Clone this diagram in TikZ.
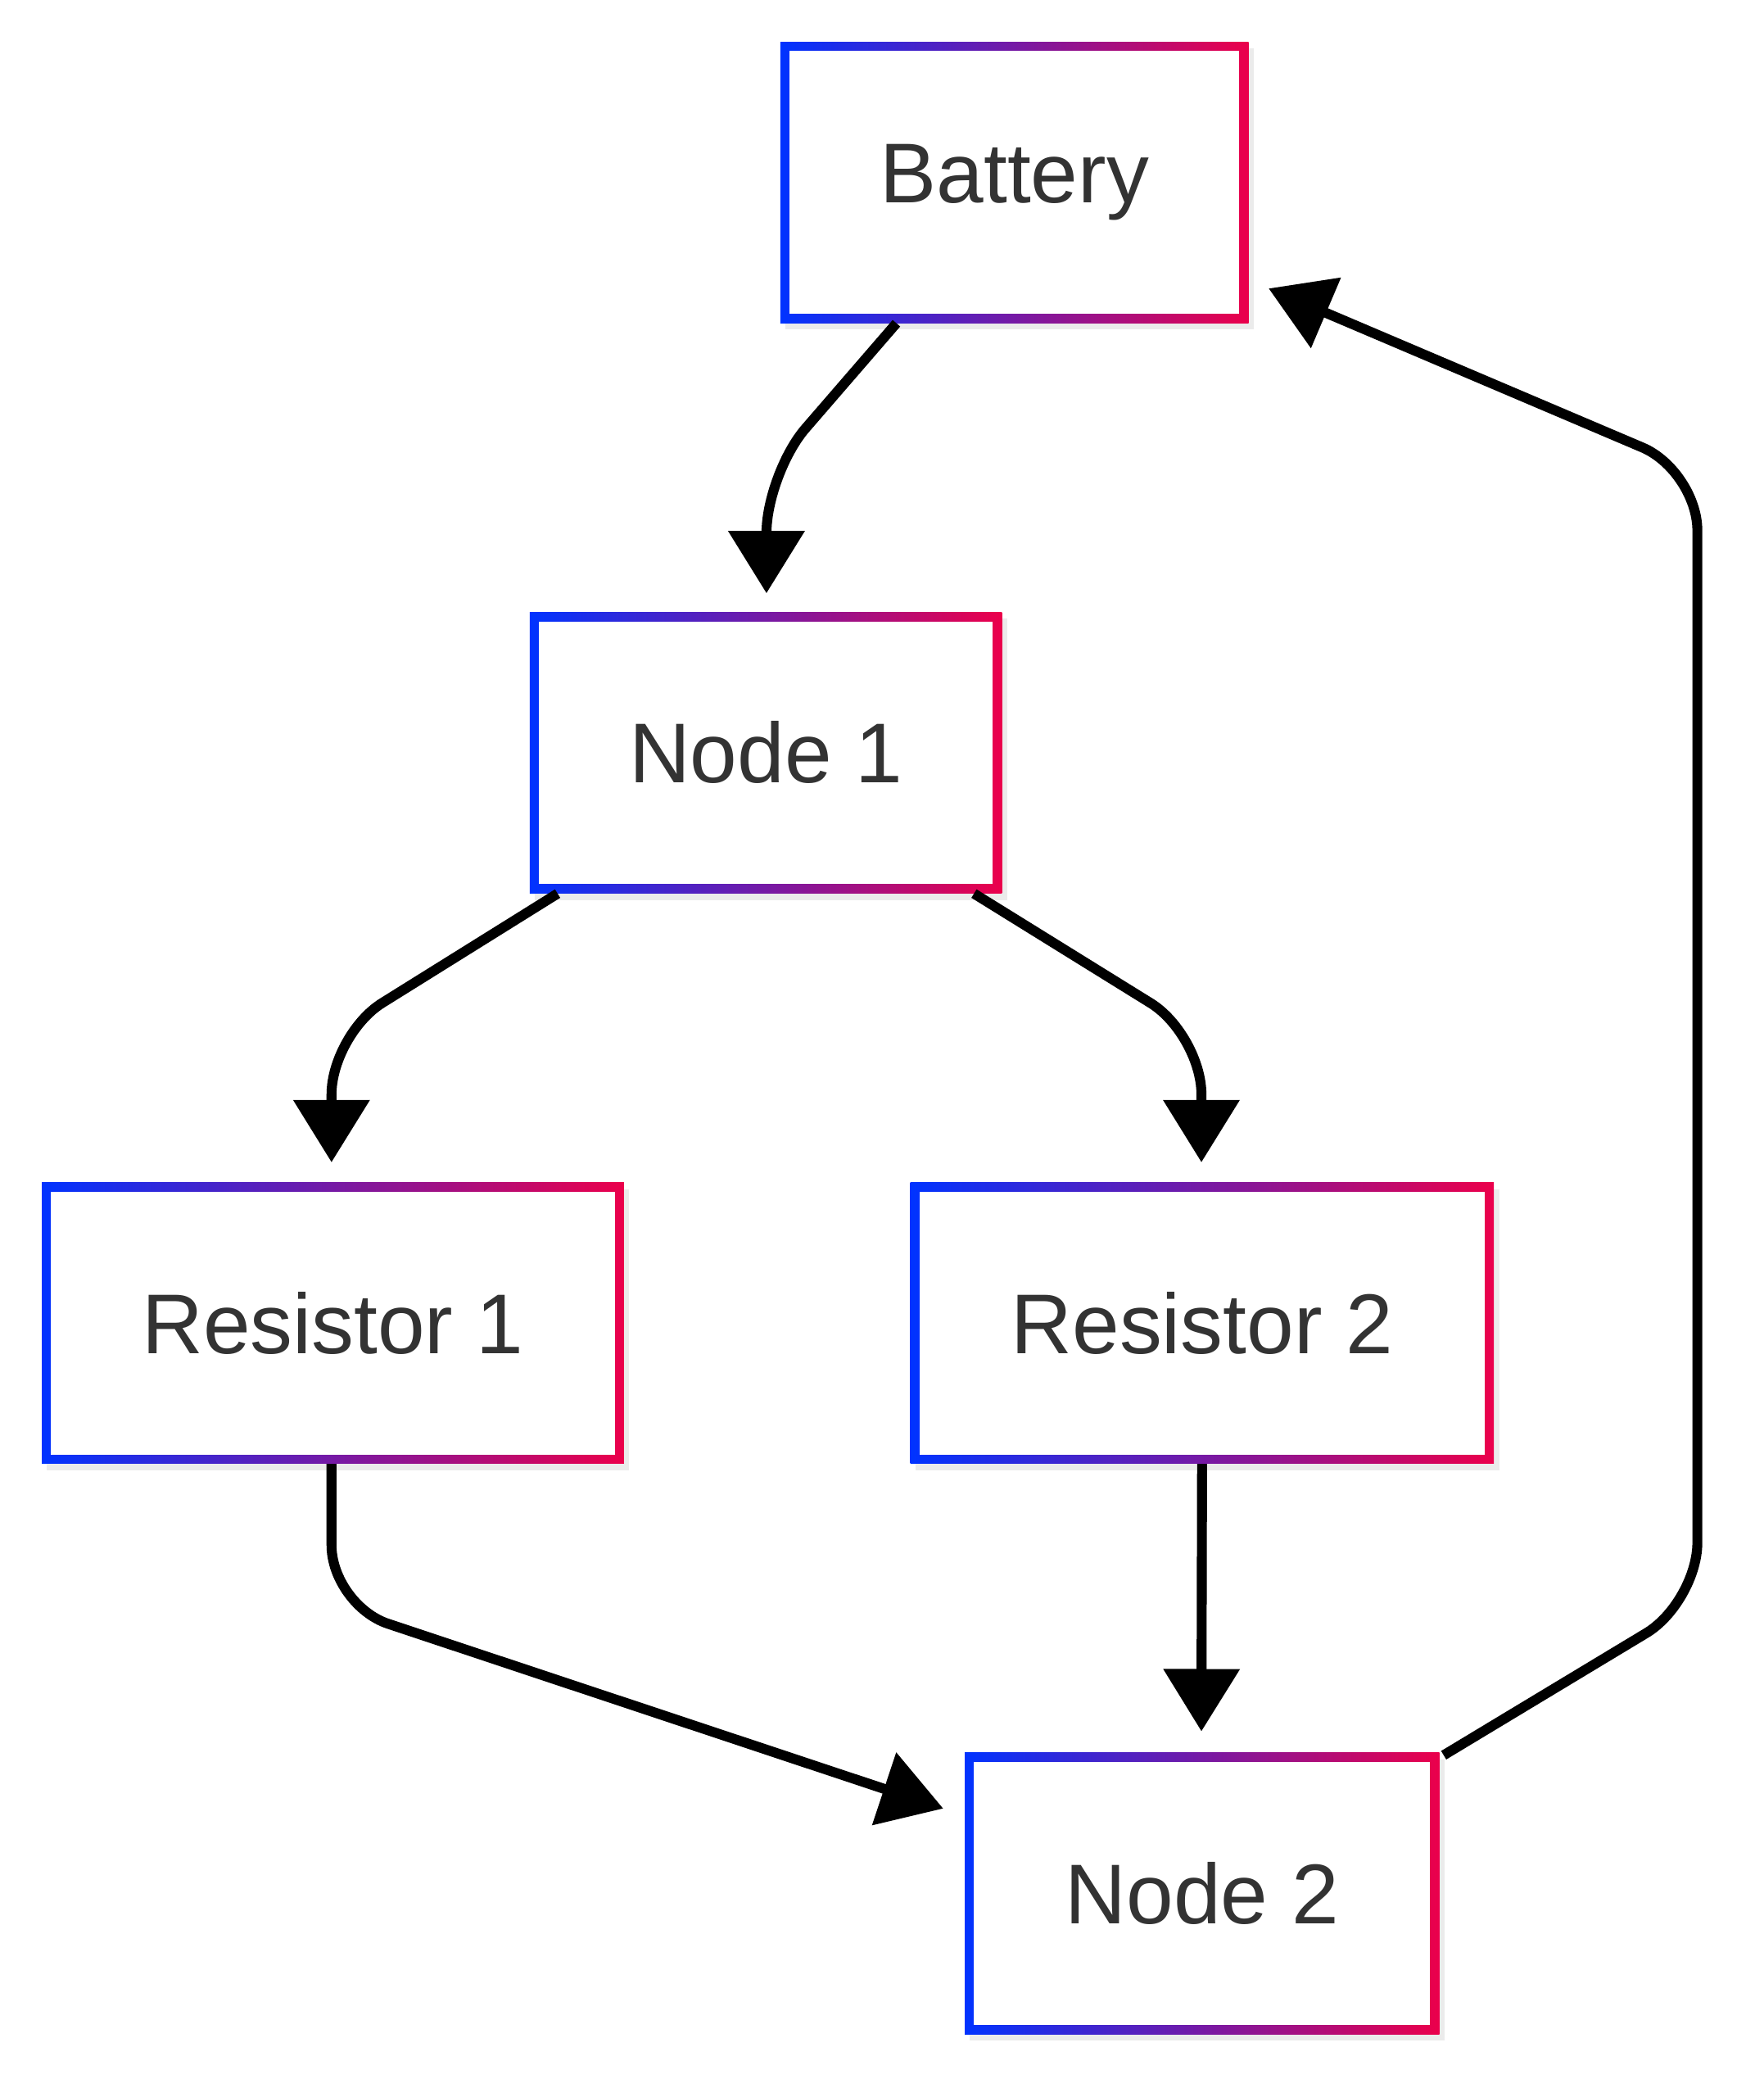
\documentclass[tikz,border=0pt]{standalone}
\usepackage{fontspec}
\setmainfont{Liberation Sans}
\usetikzlibrary{arrows.meta,calc}
\definecolor{cb}{RGB}{0,51,255}
\definecolor{cr}{RGB}{235,0,75}
\definecolor{txt}{RGB}{51,51,51}
\begin{document}
\begin{tikzpicture}[x=1pt,y=-1pt,
  outer/.style={minimum height=212pt,inner sep=0pt,left color=cb,right color=cr,draw=none,
     preaction={fill=black,opacity=0.08,transform canvas={shift={(4pt,-5pt)}}}},
  inner/.style={fill=white,minimum height=198pt,inner sep=0pt,text=txt,font=\fontsize{64}{76}\selectfont},
  edge/.style={line width=7.5pt,rounded corners=45pt,-{Triangle[length=47pt,width=56pt]}}]
\useasboundingbox (0,0) rectangle (1330,1581);
\node[outer,minimum width=353pt] (bat) at (765,137.5) {};
\node[inner,minimum width=339pt] (batt) at (bat) {Battery};
\node[outer,minimum width=356pt] (n1) at (577.5,567.5) {};
\node[inner,minimum width=342pt] (n1t) at (n1) {Node 1};
\node[outer,minimum width=439pt] (r1) at (251,997.5) {};
\node[inner,minimum width=425pt] (r1t) at (r1) {Resistor 1};
\node[outer,minimum width=440pt] (r2) at (906.5,997.5) {};
\node[inner,minimum width=426pt] (r2t) at (r2) {Resistor 2};
\node[outer,minimum width=358pt] (n2) at (906.5,1427.5) {};
\node[inner,minimum width=344pt] (n2t) at (n2) {Node 2};
% edges
\draw[edge] ($(bat.south)+(-89,0)$) -- (578,357) -- ($(n1.north)+(0.5,-14)$);
\draw[edge] ($(n1.south)+(-157,0)$) -- (250,780) -- ($(r1.north)+(-1,-15)$);
\draw[edge] ($(n1.south)+(157,0)$) -- (906,780) -- ($(r2.north)+(-0.5,-15)$);
\draw[edge] ($(r1.south)+(-1,0)$) -- (250,1210) -- ($(n2.west)+(-16,-64)$);
\draw[edge,rounded corners=0pt] (r2.south) -- ($(n2.north)+(-0.5,-16)$);
\draw[edge] ($(n2.north east)+(3,2)$) -- (1280,1208) -- (1280,355) -- ($(bat.east)+(15,80)$);
\end{tikzpicture}
\end{document}
